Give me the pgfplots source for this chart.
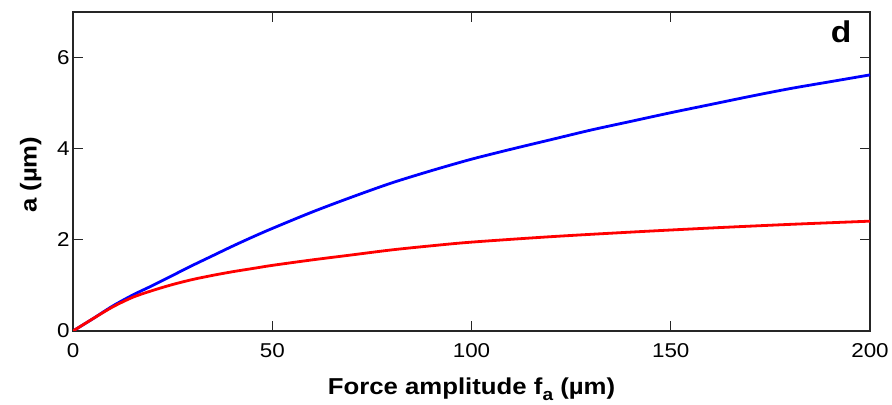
\documentclass[border=0pt]{standalone}
\usepackage{fontspec}
\setmainfont{Liberation Sans}[FakeStretch=1.12]
\usepackage{pgfplots}
\pgfplotsset{compat=1.18}
\begin{document}
\begin{tikzpicture}
\begin{axis}[
  scale only axis, width=797pt, height=319pt,
  xmin=0, xmax=200, ymin=0, ymax=7,
  xtick={0,50,100,150,200}, ytick={0,2,4,6},
  tick align=inside, major tick length=10pt,
  axis line style={line width=1.2pt, black!85},
  tick style={line width=1.2pt, black!85},
  ticklabel style={font=\fontsize{20}{24}\selectfont},
  /pgf/number format/assume math mode=true,
  xticklabel style={yshift=-9pt},
  label style={font=\fontsize{23}{27}\selectfont\bfseries},
  xlabel={Force amplitude f\raisebox{-6pt}{\fontsize{17}{20}\selectfont a} (µm)},
  ylabel={a (µm)},
  xlabel style={at={(axis description cs:0.5,-0.2)}, anchor=base},
  ylabel style={at={(axis description cs:-0.0455,0.49)}, anchor=base},
]
\addplot[blue, line width=2.8pt, smooth] coordinates {
(0,0) (5,0.27) (10,0.55) (15,0.79) (20,1.00) (25,1.22) (30,1.44) (35,1.65)
(40,1.86) (45,2.06) (50,2.25) (60,2.61) (70,2.94) (80,3.25) (90,3.52)
(100,3.77) (110,3.99) (120,4.20) (130,4.41) (140,4.60) (150,4.79) (160,4.97)
(170,5.15) (180,5.32) (190,5.47) (200,5.62)
};
\addplot[red, line width=2.8pt, smooth] coordinates {
(0,0) (5,0.27) (10,0.53) (15,0.74) (20,0.89) (25,1.02) (30,1.13) (35,1.22)
(40,1.30) (45,1.37) (50,1.44) (60,1.56) (70,1.67) (80,1.78) (90,1.87)
(100,1.95) (120,2.07) (140,2.17) (160,2.26) (180,2.34) (200,2.41)
};
\node[anchor=base east, font=\fontsize{30}{34}\selectfont\bfseries] at (axis description cs:0.9812,0.9038) {d};
\end{axis}
\pgfresetboundingbox
\path[use as bounding box] ([shift={(-73pt,-74pt)}]current axis.south west) rectangle ([shift={(22pt,12pt)}]current axis.north east);
\end{tikzpicture}
\end{document}
